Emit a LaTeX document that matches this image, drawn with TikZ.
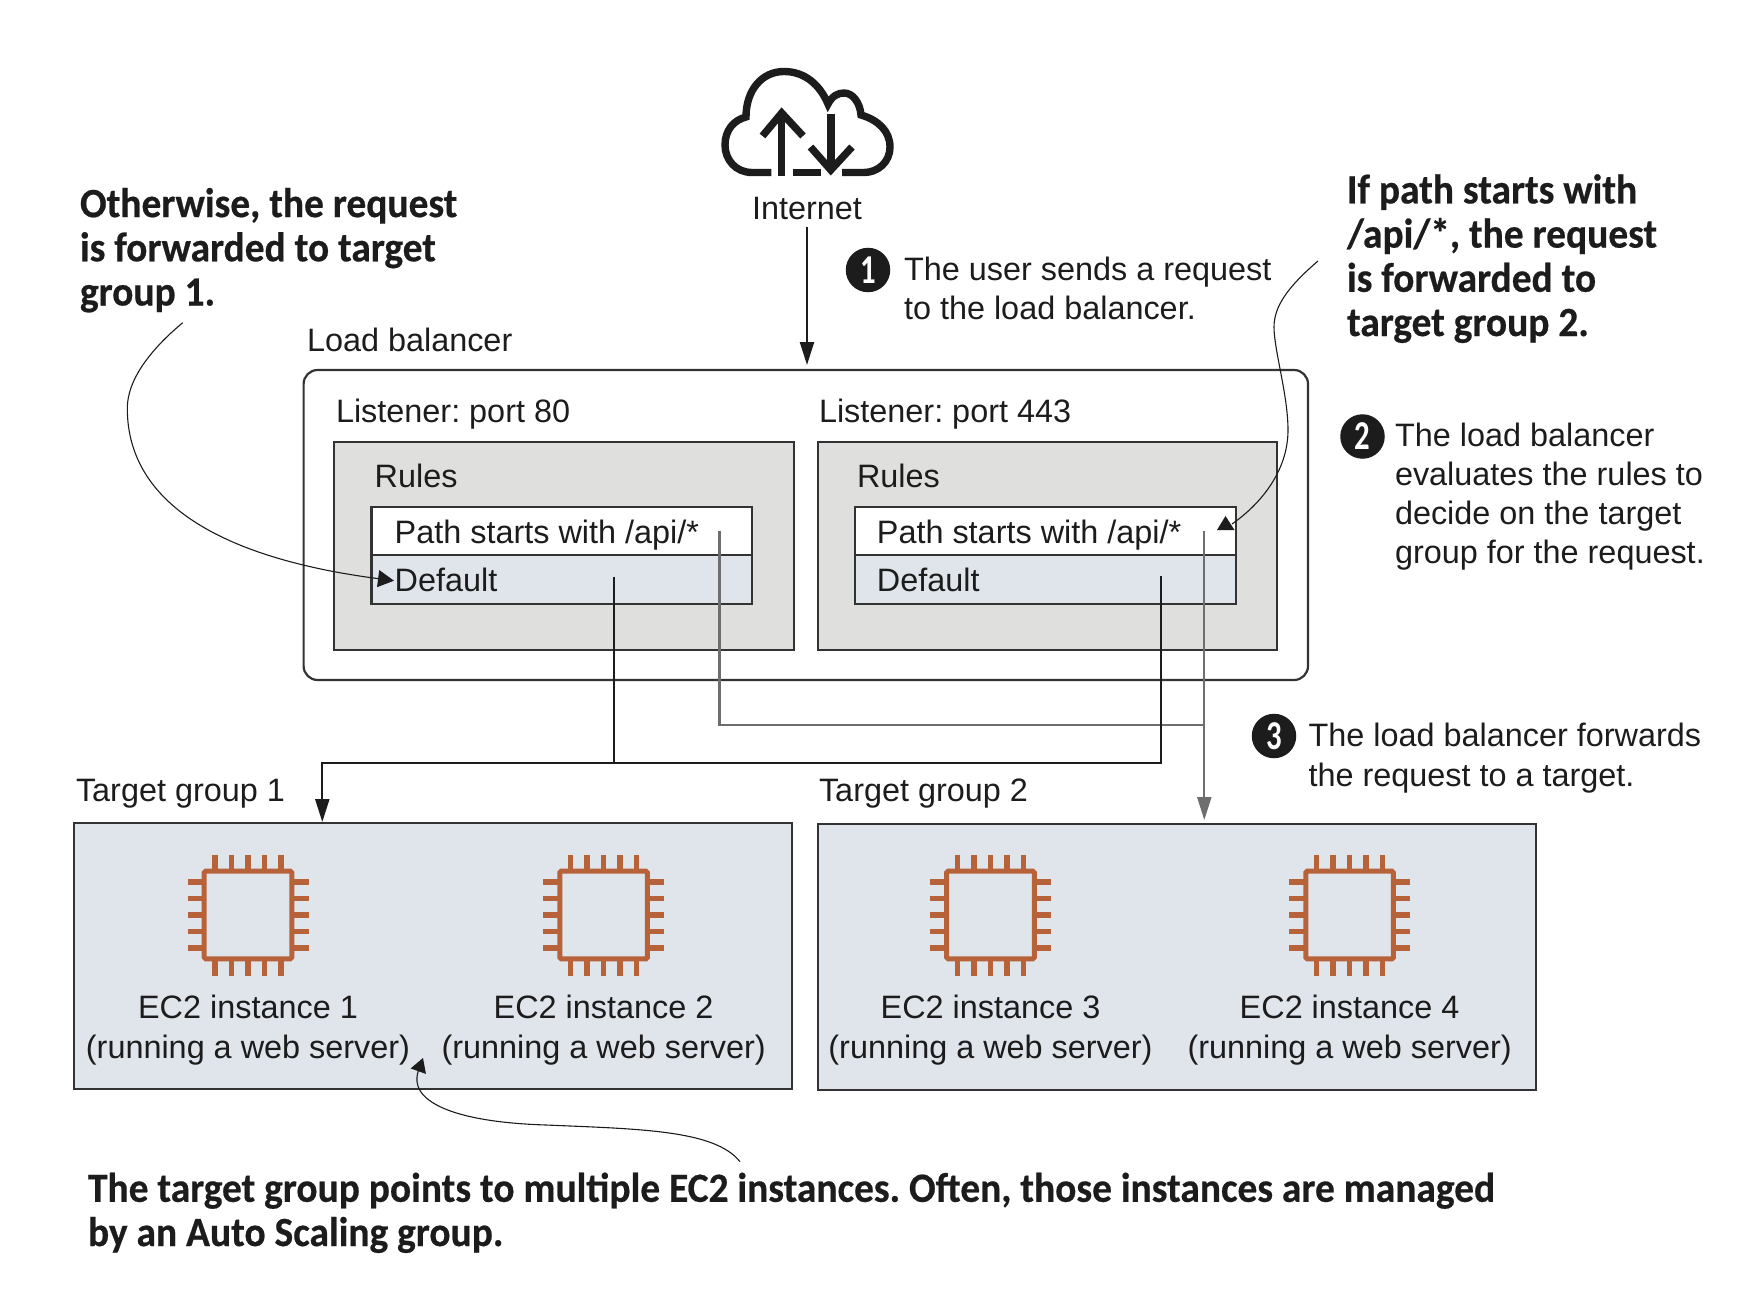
\documentclass[tikz,border=0pt]{standalone}
\usepackage{fontspec}
\setmainfont{Liberation Sans}
\newfontfamily\annotfont{Carlito}[BoldFeatures={FakeBold=0.5,FakeStretch=0.95}]
\newfontfamily\digitfont{Carlito}[BoldFeatures={FakeStretch=0.75}]
\usetikzlibrary{arrows.meta}
\definecolor{ink}{HTML}{1C1C1C}
\definecolor{boxline}{HTML}{333333}
\definecolor{rulesgray}{HTML}{DFDFDD}
\definecolor{paleblue}{HTML}{E0E5EC}
\definecolor{chipcol}{HTML}{B8623A}
\definecolor{grayline}{HTML}{6E6E6E}
\newcommand\lblsize{\frenchspacing\fontsize{32.4}{39.3}\selectfont}
\newcommand\annsize{\frenchspacing\annotfont\bfseries\fontsize{41.5}{44.2}\selectfont}
\tikzset{
  x=1pt,y=-1pt,
  lbl/.style={inner sep=0pt,outer sep=0pt,text=ink,align=left,anchor=base west,font=\lblsize},
  ctr/.style={inner sep=0pt,outer sep=0pt,text=ink,align=center,anchor=base,font=\lblsize},
  ann/.style={inner sep=0pt,outer sep=0pt,text=ink,align=left,anchor=base west,font=\annsize},
  panel/.style={draw=boxline,line width=2.2pt,inner sep=0pt,outer sep=0pt,anchor=north west},
  stepdot/.style={circle,fill=ink,text=white,inner sep=0pt,minimum size=44.5pt,font=\digitfont\bfseries\fontsize{41}{41}\selectfont},
  blackflow/.style={draw=ink,line width=2.3pt},
  grayflow/.style={draw=grayline,line width=2.3pt},
  note/.style={draw=ink,line width=1.1pt},
  bigtip/.style={-{Triangle[length=23pt,width=14pt]}},
  chip/.pic={
    \draw[chipcol,line width=5pt,rounded corners=1.5pt] (-43.8,-43.8) rectangle (43.8,43.8);
    \foreach \p in {-33,-16.5,0,16.5,33}{
      \draw[chipcol,line width=5.6pt] (\p,-60.5) -- (\p,-43.8);
      \draw[chipcol,line width=5.6pt] (\p,60.5) -- (\p,43.8);
      \draw[chipcol,line width=5.6pt] (-60.5,\p) -- (-43.8,\p);
      \draw[chipcol,line width=5.6pt] (60.5,\p) -- (43.8,\p);
    }
  }
}
\begin{document}
\begin{tikzpicture}
\useasboundingbox (0,0) rectangle (1762,1308);
% cloud icon
\begin{scope}[ink,line width=7.4pt,line cap=butt,line join=miter]
\draw (771.4,172.5) -- (752,172.5) .. controls (736,172.5) and (725,160) .. (725,145)
  .. controls (725,130) and (734,120) .. (746,117)
  .. controls (746,90) and (762,71.5) .. (784,71.5)
  .. controls (805,71.5) and (820,85) .. (828,104)
  .. controls (832,96) and (838,93) .. (844,93)
  .. controls (853,93) and (860,103) .. (861,115)
  .. controls (878,120) and (890,131) .. (890,147)
  .. controls (890,162) and (878,172.5) .. (864,172.5) -- (842,172.5);
\draw (793,172.5) -- (820.5,172.5);
\draw (781.7,176.5) -- (781.7,114);
\draw (762.5,136) -- (781.7,113) -- (803,136);
\draw (830.8,114) -- (830.8,170);
\draw (810.5,147) -- (830.8,170) -- (852,147);
\end{scope}
% boxes
\node[panel,rounded corners=14pt,minimum width=1004.4pt,minimum height=310pt] (lb) at (303.6,370) {};
\node[panel,fill=rulesgray,minimum width=460pt,minimum height=208pt] (rulesA) at (334,442) {};
\node[panel,fill=rulesgray,minimum width=459pt,minimum height=208pt] (rulesB) at (818,442) {};
\node[panel,fill=white,minimum width=380.6pt,minimum height=48.3pt] (pathA) at (371.4,507) {};
\node[panel,fill=paleblue,minimum width=380.6pt,minimum height=48.7pt] (defA) at (371.4,555.3) {};
\node[panel,fill=white,minimum width=381pt,minimum height=48.3pt] (pathB) at (854.6,507) {};
\node[panel,fill=paleblue,minimum width=381pt,minimum height=48.7pt] (defB) at (854.6,555.3) {};
\node[panel,fill=paleblue,minimum width=718pt,minimum height=266.5pt] (tgA) at (74,822.7) {};
\node[panel,fill=paleblue,minimum width=718pt,minimum height=266pt] (tgB) at (818,824) {};
% chips
\pic at (248,915) {chip};
\pic at (603.6,915) {chip};
\pic at (990.5,915) {chip};
\pic at (1349.6,915) {chip};
% texts
\node[ctr] (inet) at (807,220) {Internet};
\node[stepdot] (s1) at (868,270) {1};
\node[lbl] (t1) at (904,319.6) {The user sends a request\\to the load balancer.};
\node[lbl] (lbname) at (307,351) {Load balancer};
\node[lbl] (lisA) at (336,422.7) {Listener: port 80};
\node[lbl] (lisB) at (819,422.7) {Listener: port 443};
\node[lbl] (ruA) at (374.7,487.7) {Rules};
\node[lbl] (ruB) at (857,487.7) {Rules};
\node[lbl] (paA) at (394.7,543.3) {Path starts with /api/*};
\node[lbl] (paB) at (876.9,543.3) {Path starts with /api/*};
\node[lbl] (deA) at (394.7,591.7) {Default};
\node[lbl] (deB) at (876.9,591.7) {Default};
\node[stepdot] (s2) at (1362.5,436.5) {2};
\node[lbl] (t2) at (1395,563.9) {The load balancer\\evaluates the rules to\\decide on the target\\group for the request.};
\node[stepdot] (s3) at (1274,736) {3};
\node[lbl] (t3) at (1308.5,786) {The load balancer forwards\\the request to a target.};
\node[lbl] (tgAname) at (76,801) {Target group 1};
\node[lbl] (tgBname) at (819,801.5) {Target group 2};
\node[ctr] (ecA) at (248,1058) {EC2 instance 1\\(running a web server)};
\node[ctr] (ecB) at (603.6,1058) {EC2 instance 2\\(running a web server)};
\node[ctr] (ecC) at (990.5,1058) {EC2 instance 3\\(running a web server)};
\node[ctr] (ecD) at (1349.6,1058) {EC2 instance 4\\(running a web server)};
\node[ann] (otherwise) at (80,305.5) {Otherwise, the request\\is forwarded to target\\group 1.};
\node[ann] (ifpath) at (1347,336) {If path starts with\\/api/*, the request\\is forwarded to\\target group 2.};
\node[ann] (tgnote) at (88,1246) {The target group points to multiple EC2 instances. Often, those instances are managed\\by an Auto Scaling group.};
% connectors
\coordinate (inetfoot) at (807,226.7);
\coordinate (lbtip) at (807,365);
\draw[blackflow,bigtip] (inetfoot) -- (lbtip);
\coordinate (grayA) at (719.6,530.7);
\coordinate (grayB) at (1204.3,531);
\coordinate (grayBtip) at (1204.3,820);
\draw[grayflow] (grayA) |- (grayB |- 0,725);
\draw[grayflow,bigtip] (grayB) -- (grayBtip);
\coordinate (blackA) at (614.3,576.7);
\coordinate (blackB) at (1160.7,576);
\coordinate (tgAtip) at (322.3,822);
\draw[blackflow] (blackA) -- (blackA |- 0,763);
\draw[blackflow,bigtip] (blackB) |- (322.3,763) -- (tgAtip);
% notes
\coordinate (noteAstart) at (182.7,322.7);
\coordinate (noteAbend) at (127.3,408.3);
\coordinate (noteAtip) at (394,580.7);
\draw[note,-{Triangle[length=16pt,width=17pt]}] (noteAstart) .. controls (150,350) and (127.3,380) .. (noteAbend)
  .. controls (127.3,510) and (235,560) .. (noteAtip);
\coordinate (noteBstart) at (1318,261);
\coordinate (noteBtip) at (1232,524);
\draw[note] (noteBstart) .. controls (1290,285) and (1274,305) .. (1274,327)
  .. controls (1274,350) and (1288,395) .. (1288,430)
  .. controls (1288,470) and (1262,503) .. (noteBtip);
\fill[ink] (1225.5,516) -- (1234.5,530) -- (1217,530) -- cycle;
\coordinate (noteCstart) at (740,1161.7);
\coordinate (noteCtip) at (423,1058);
\draw[note,-{Triangle[length=14pt,width=16pt]}] (noteCstart) .. controls (715,1130) and (640,1129) .. (546,1125)
  .. controls (450,1122) and (408,1100) .. (noteCtip);
\end{tikzpicture}
\end{document}
